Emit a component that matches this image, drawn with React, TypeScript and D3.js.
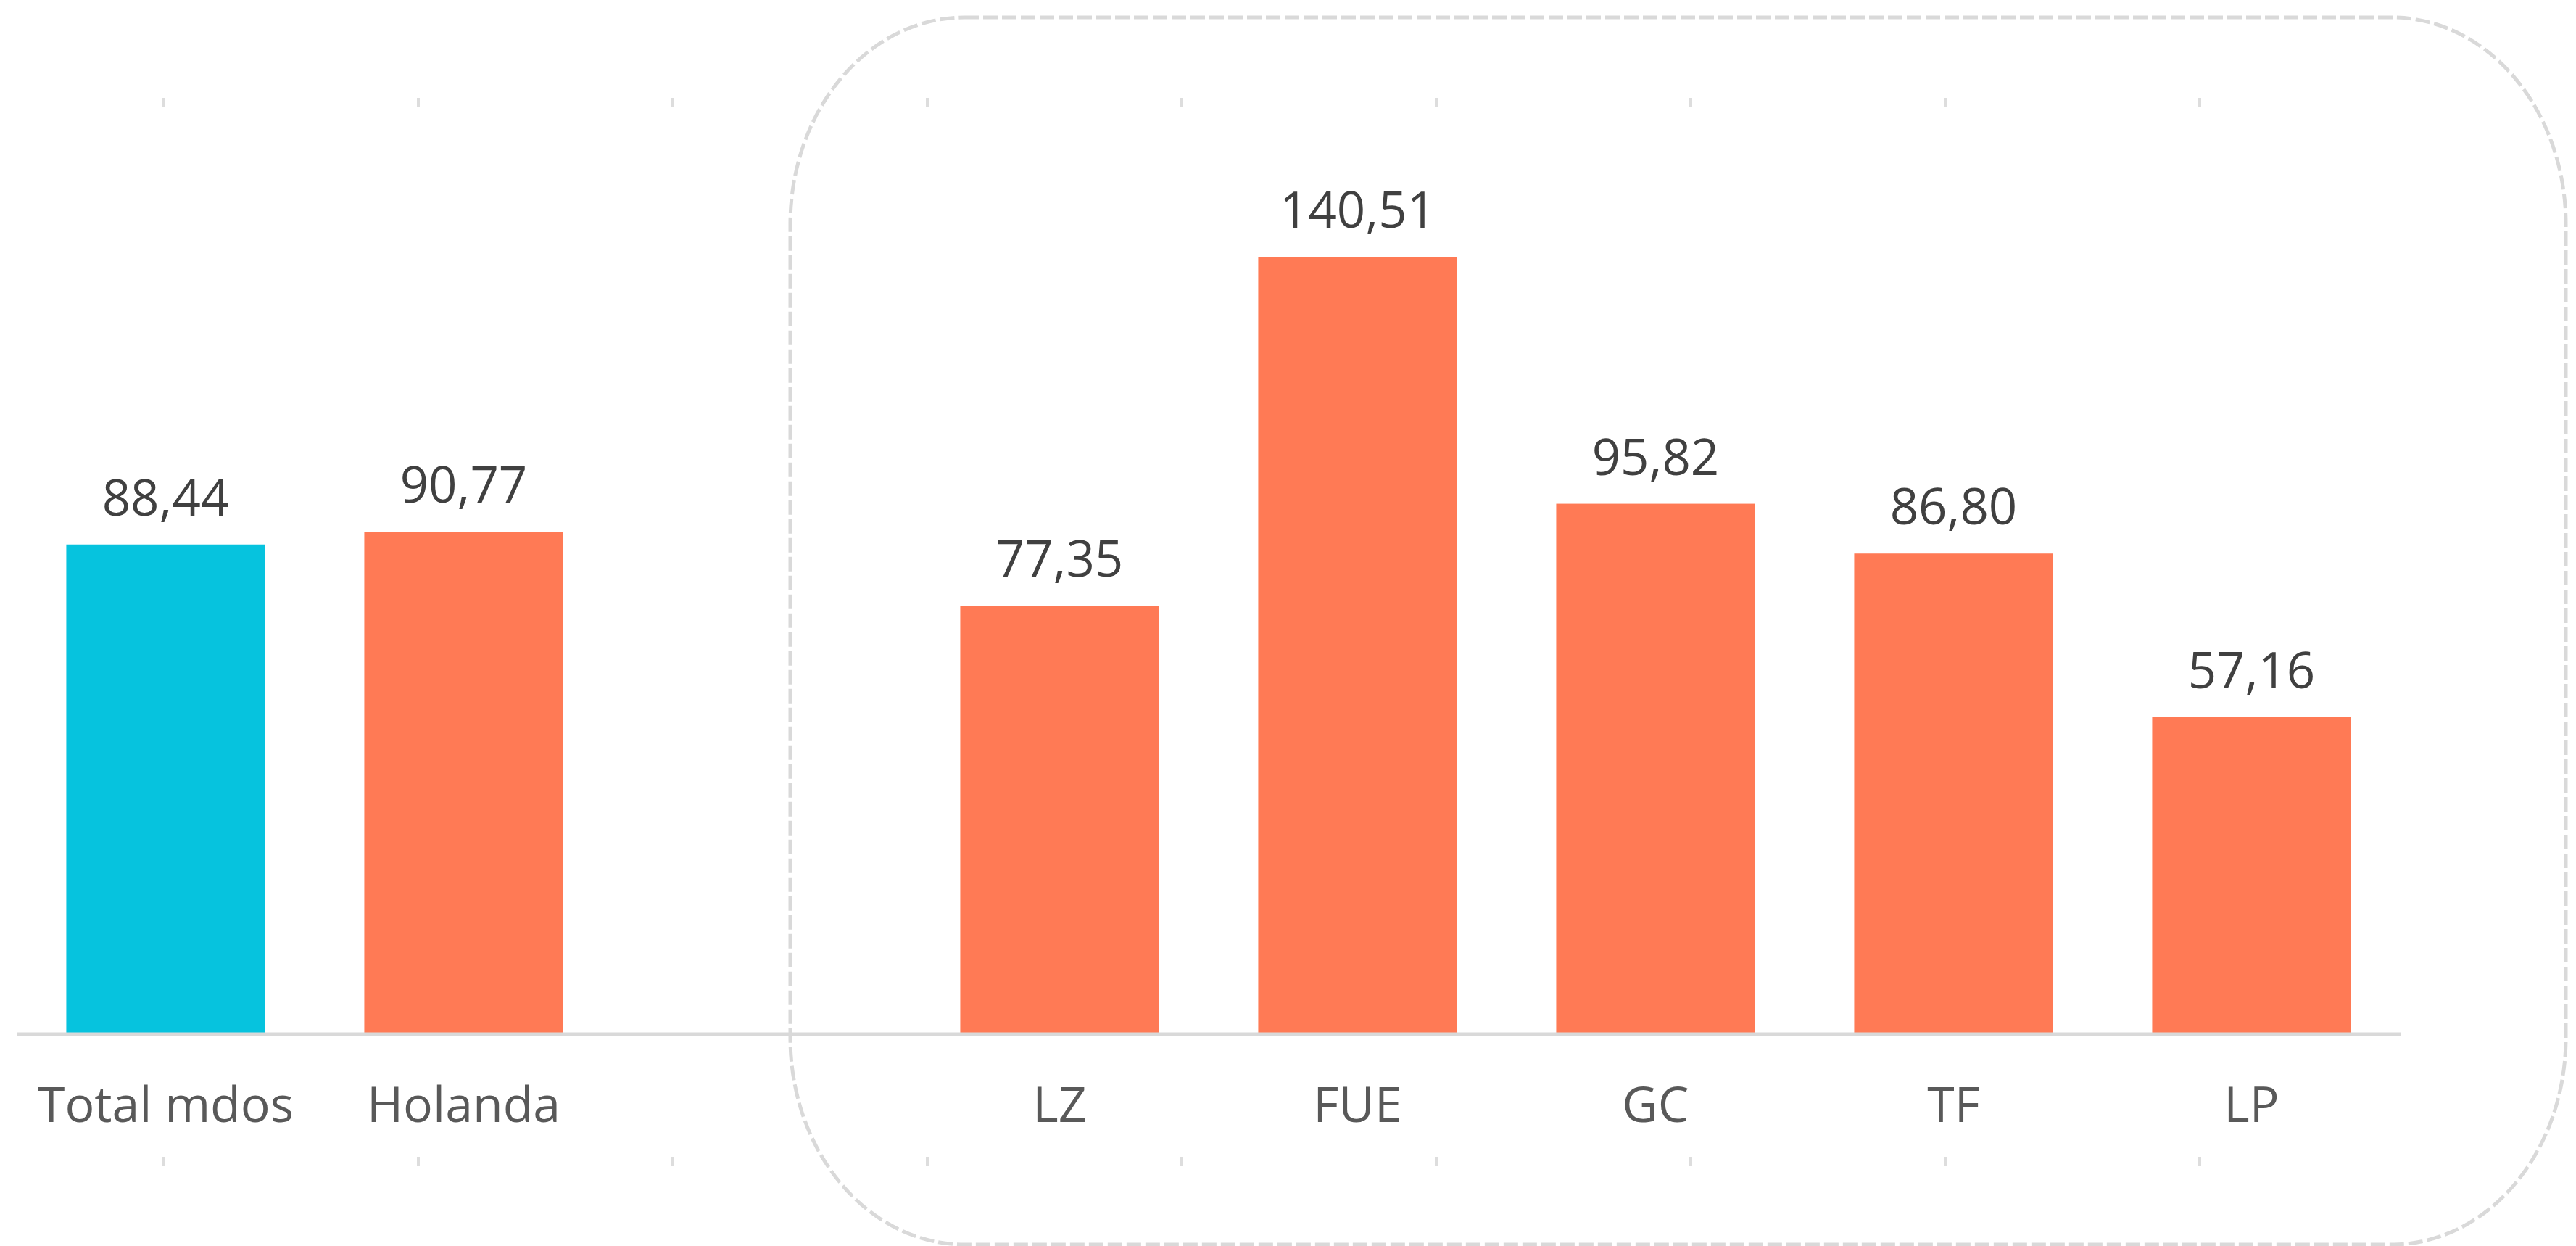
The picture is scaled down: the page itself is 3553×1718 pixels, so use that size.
import * as d3 from "d3";
import { useRef, useEffect } from "react";

const categories = ["Total mdos", "Holanda", "", "LZ", "FUE", "GC", "TF", "LP"];
const values: (number | null)[] = [88.44, 90.77, null, 77.35, 140.51, 95.82, 86.8, 57.16];
const highlighted = ["Total mdos"];
const yTicks = [0, 160];
// small gray tick marks that run above and below the plot
const markerTicks = [0, 1, 2, 3, 4, 5, 6, 7, 8];

const es = d3.formatLocale({ decimal: ",", thousands: ".", grouping: [3], currency: ["", " €"] });
const fmt = es.format(".2f");

function App() {
    const ref = useRef<SVGSVGElement>(null);
    const width = 3553, height = 1718;
    const margin = { left: 23, right: 242, top: 206, bottom: 294 };

    useEffect(() => {
        const svg = d3.select(ref.current);
        svg.selectAll("*").remove();

        const x = d3.scaleBand<number>()
            .domain(categories.map((_, i) => i))
            .range([margin.left, width - margin.right])
            .paddingInner(0.333)
            .paddingOuter(0.1665);
        const y = d3.scaleLinear()
            .domain(d3.extent(yTicks) as [number, number])
            .range([height - margin.bottom, margin.top]);

        // dashed rounded frame around the island group
        svg.append("rect")
            .attr("x", 1090).attr("y", 24)
            .attr("width", 3539 - 1090).attr("height", 1716 - 24)
            .attr("rx", 240).attr("ry", 285)
            .attr("fill", "none")
            .attr("stroke", "#d9d9d9")
            .attr("stroke-width", 5)
            .attr("stroke-dasharray", "20 6");

        // gray marks top and bottom
        const mx = d3.scaleLinear().domain([0, 1]).range([226, 577]);
        [[135, 148], [1595, 1608]].forEach(([y0, y1]) => {
            svg.append("g").selectAll("line")
                .data(markerTicks)
                .join("line")
                .attr("x1", d => mx(d)).attr("x2", d => mx(d))
                .attr("y1", y0).attr("y2", y1)
                .attr("stroke", "#dddddd")
                .attr("stroke-width", 4);
        });

        const data = categories.map((c, i) => ({ i, c, v: values[i] })).filter(d => d.v !== null);

        // bars
        svg.append("g").selectAll("rect")
            .data(data)
            .join("rect")
            .attr("x", d => x(d.i)!)
            .attr("width", x.bandwidth())
            .attr("y", d => y(d.v as number))
            .attr("height", d => y(0) - y(d.v as number))
            .attr("fill", d => highlighted.includes(d.c) ? "#06c3de" : "#ff7a55");

        // value labels
        svg.append("g").selectAll("text")
            .data(data)
            .join("text")
            .attr("x", d => x(d.i)! + x.bandwidth() / 2)
            .attr("y", d => y(d.v as number) - 40)
            .attr("text-anchor", "middle")
            .style("font", "69px 'Open Sans'")
            .attr("fill", "#404040")
            .text(d => fmt(d.v as number));

        // axis line
        svg.append("line")
            .attr("x1", margin.left).attr("x2", width - margin.right)
            .attr("y1", y(0) + 2).attr("y2", y(0) + 2)
            .attr("stroke", "#d9d9d9")
            .attr("stroke-width", 5);

        // category labels
        svg.append("g").selectAll("text")
            .data(categories.map((c, i) => ({ c, i })).filter(d => d.c !== ""))
            .join("text")
            .attr("x", d => x(d.i)! + x.bandwidth() / 2)
            .attr("y", 1547)
            .attr("text-anchor", "middle")
            .style("font", "68px 'Open Sans'")
            .attr("fill", "#595959")
            .text(d => d.c);
    }, []);

    return (
        <svg ref={ref} width={width} height={height}
            style={{ position: "absolute", left: 0, top: 0, background: "#fff" }} />
    );
}

export default App;
